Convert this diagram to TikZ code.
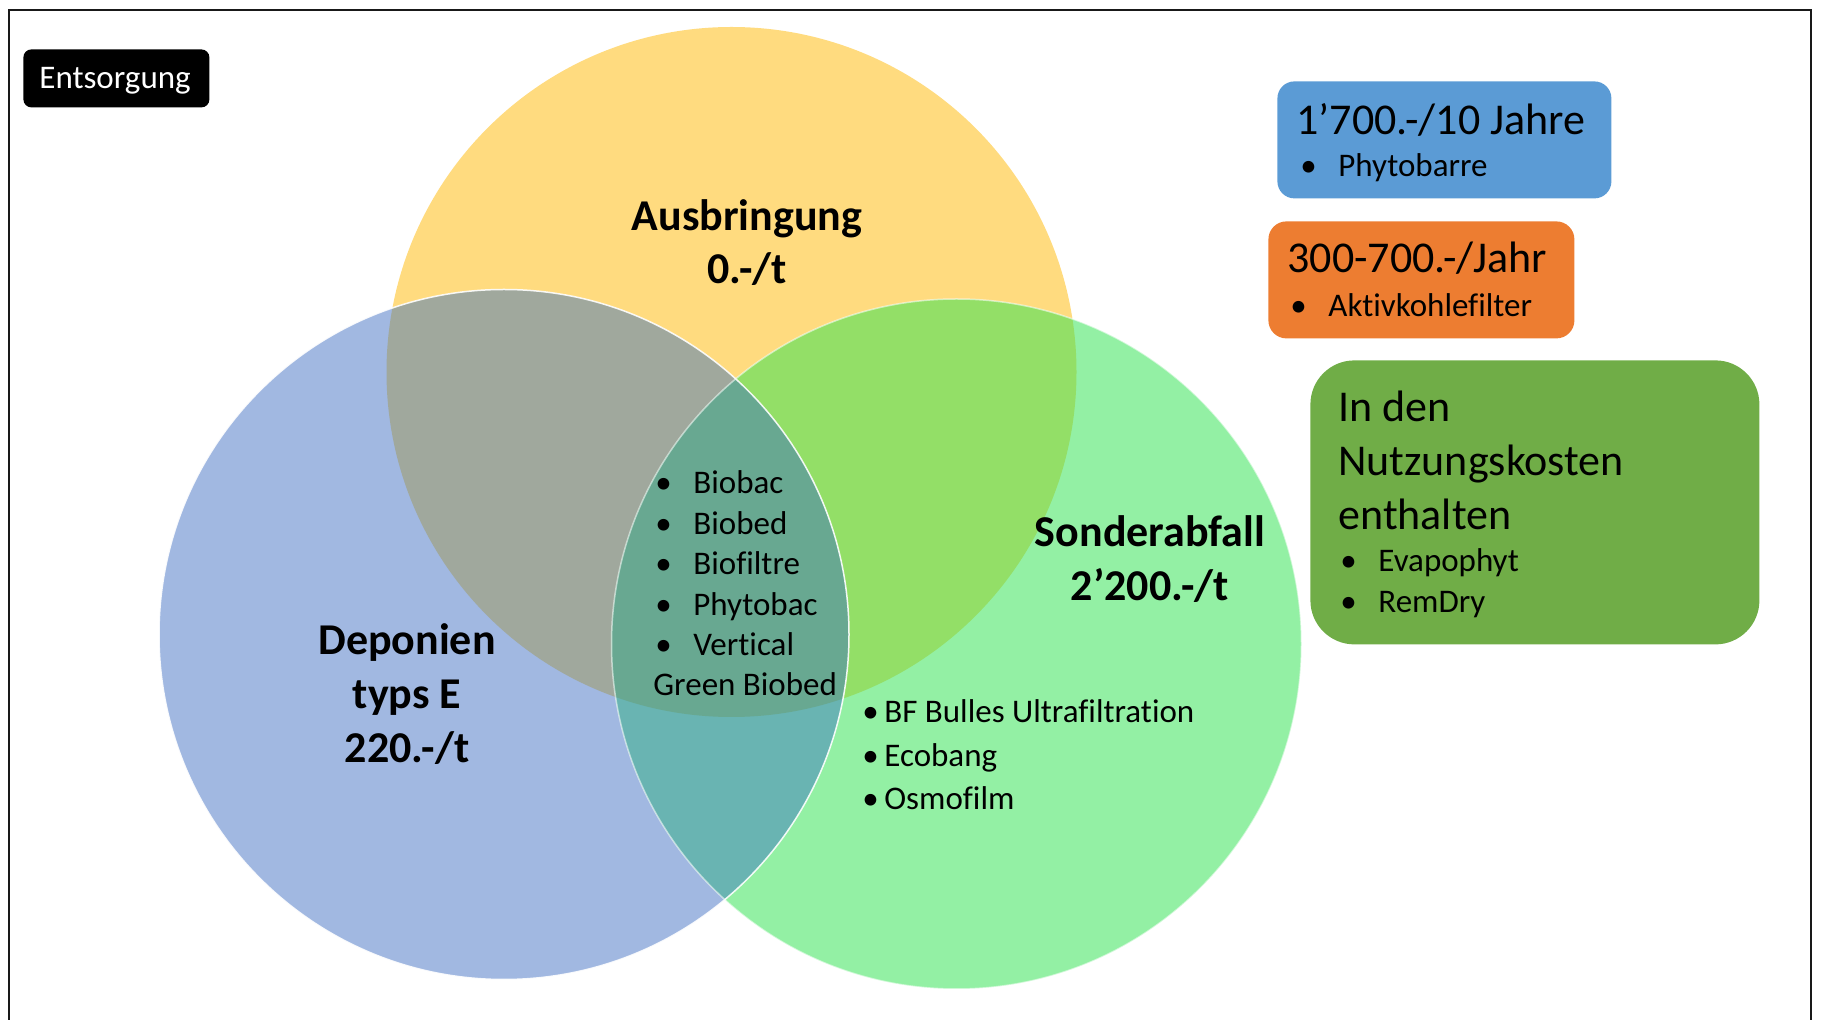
\documentclass[tikz,border=0pt]{standalone}
\usepackage{fontspec}
\setmainfont{Carlito}[Ligatures={NoCommon}]
\definecolor{cy}{HTML}{FFDB7F}
\definecolor{cb}{HTML}{A1B8E1}
\definecolor{cg}{HTML}{93F0A4}
\definecolor{cyb}{HTML}{A0A89D}
\definecolor{cyg}{HTML}{93DF67}
\definecolor{cbg}{HTML}{69B4B2}
\definecolor{cybg}{HTML}{68A891}
\definecolor{boxblue}{HTML}{5B9BD5}
\definecolor{boxorange}{HTML}{ED7D31}
\definecolor{boxgreen}{HTML}{70AD47}
\begin{document}
\begin{tikzpicture}[x=0.5pt,y=-0.5pt,
  hd/.style={font=\fontsize{22}{26}\selectfont\bfseries, anchor=base, inner sep=0pt},
  big/.style={font=\fontsize{22}{26}\selectfont, anchor=base west, inner sep=0pt},
  sm/.style={font=\fontsize{16.5}{20}\selectfont, anchor=base west, inner sep=0pt},
  panel/.style={anchor=north west, inner sep=0pt, draw=none},
  ring/.style={draw=white, line width=0.75pt}]
\useasboundingbox (0,0) rectangle (1822,1020);
% frame
\draw[line width=1.4pt, color=black!90] (9,1020) -- (9,10) -- (1811,10) -- (1811,1020);
% circles
\coordinate (Y) at (731.5,372);
\coordinate (B) at (504,634.5);
\coordinate (G) at (956.5,644);
\fill[cy] (Y) circle (345);
\fill[cb] (B) circle (345);
\fill[cg] (G) circle (345);
\begin{scope}
  \clip (Y) circle (345);
  \fill[cyb] (B) circle (345);
  \fill[cyg] (G) circle (345);
\end{scope}
\begin{scope}
  \clip (B) circle (345);
  \fill[cbg] (G) circle (345);
  \clip (G) circle (345);
  \fill[cybg] (Y) circle (345);
\end{scope}
\draw[ring, draw opacity=0.55] (G) circle (345);
\draw[ring, draw opacity=0.9] (B) circle (345);
% circle labels
\node[hd] (aus1) at (747,231) {Ausbringung};
\node[hd] (aus2) at (747,284) {0.-/t};
\node[hd] (dep1) at (407,655) {Deponien};
\node[hd] (dep2) at (407,709) {typs E};
\node[hd] (dep3) at (407,763) {220.-/t};
\node[hd] (son1) at (1150,547) {Sonderabfall};
\node[hd] (son2) at (1150,601) {2’200.-/t};
% centre list
\node[sm] (c1) at (655,494) {\makebox[19pt][l]{•}Biobac};
\node[sm] (c2) at (655,534.4) {\makebox[19pt][l]{•}Biobed};
\node[sm] (c3) at (655,574.8) {\makebox[19pt][l]{•}Biofiltre};
\node[sm] (c4) at (655,615.2) {\makebox[19pt][l]{•}Phytobac};
\node[sm] (c5) at (655,655.6) {\makebox[19pt][l]{•}Vertical};
\node[sm] (c6) at (653,696) {Green Biobed};
% right list
\node[sm] (r1) at (862,723) {\makebox[11pt][l]{•}BF Bulles Ultrafiltration};
\node[sm] (r2) at (862,766.5) {\makebox[11pt][l]{•}Ecobang};
\node[sm] (r3) at (862,810) {\makebox[11pt][l]{•}Osmofilm};
% Entsorgung label
\node[panel, fill=black, rounded corners=4pt, minimum width=93pt, minimum height=29pt] (ent) at (23,49) {};
\node[sm, text=white] (entt) at (39,89) {Entsorgung};
% blue box
\node[panel, fill=boxblue, rounded corners=8.5pt, minimum width=167pt, minimum height=58.5pt] (bb) at (1277,81) {};
\node[big] (bbt) at (1296,135) {1’700.-/10 Jahre};
\node[sm] (bbl) at (1300,177) {\makebox[19pt][l]{•}Phytobarre};
% orange box
\node[panel, fill=boxorange, rounded corners=9pt, minimum width=153pt, minimum height=58.5pt] (ob) at (1268,221) {};
\node[big] (obt) at (1287,273) {300-700.-/Jahr};
\node[sm] (obl) at (1290,317) {\makebox[19pt][l]{•}Aktivkohlefilter};
% green box
\node[panel, fill=boxgreen, rounded corners=22pt, minimum width=224.5pt, minimum height=142pt] (gb) at (1310,360) {};
\node[big] (gbt1) at (1338,422) {In den};
\node[big] (gbt2) at (1338,476) {Nutzungskosten};
\node[big] (gbt3) at (1338,530) {enthalten};
\node[sm] (gbl1) at (1340,572) {\makebox[19pt][l]{•}Evapophyt};
\node[sm] (gbl2) at (1340,613) {\makebox[19pt][l]{•}RemDry};
\end{tikzpicture}
\end{document}
